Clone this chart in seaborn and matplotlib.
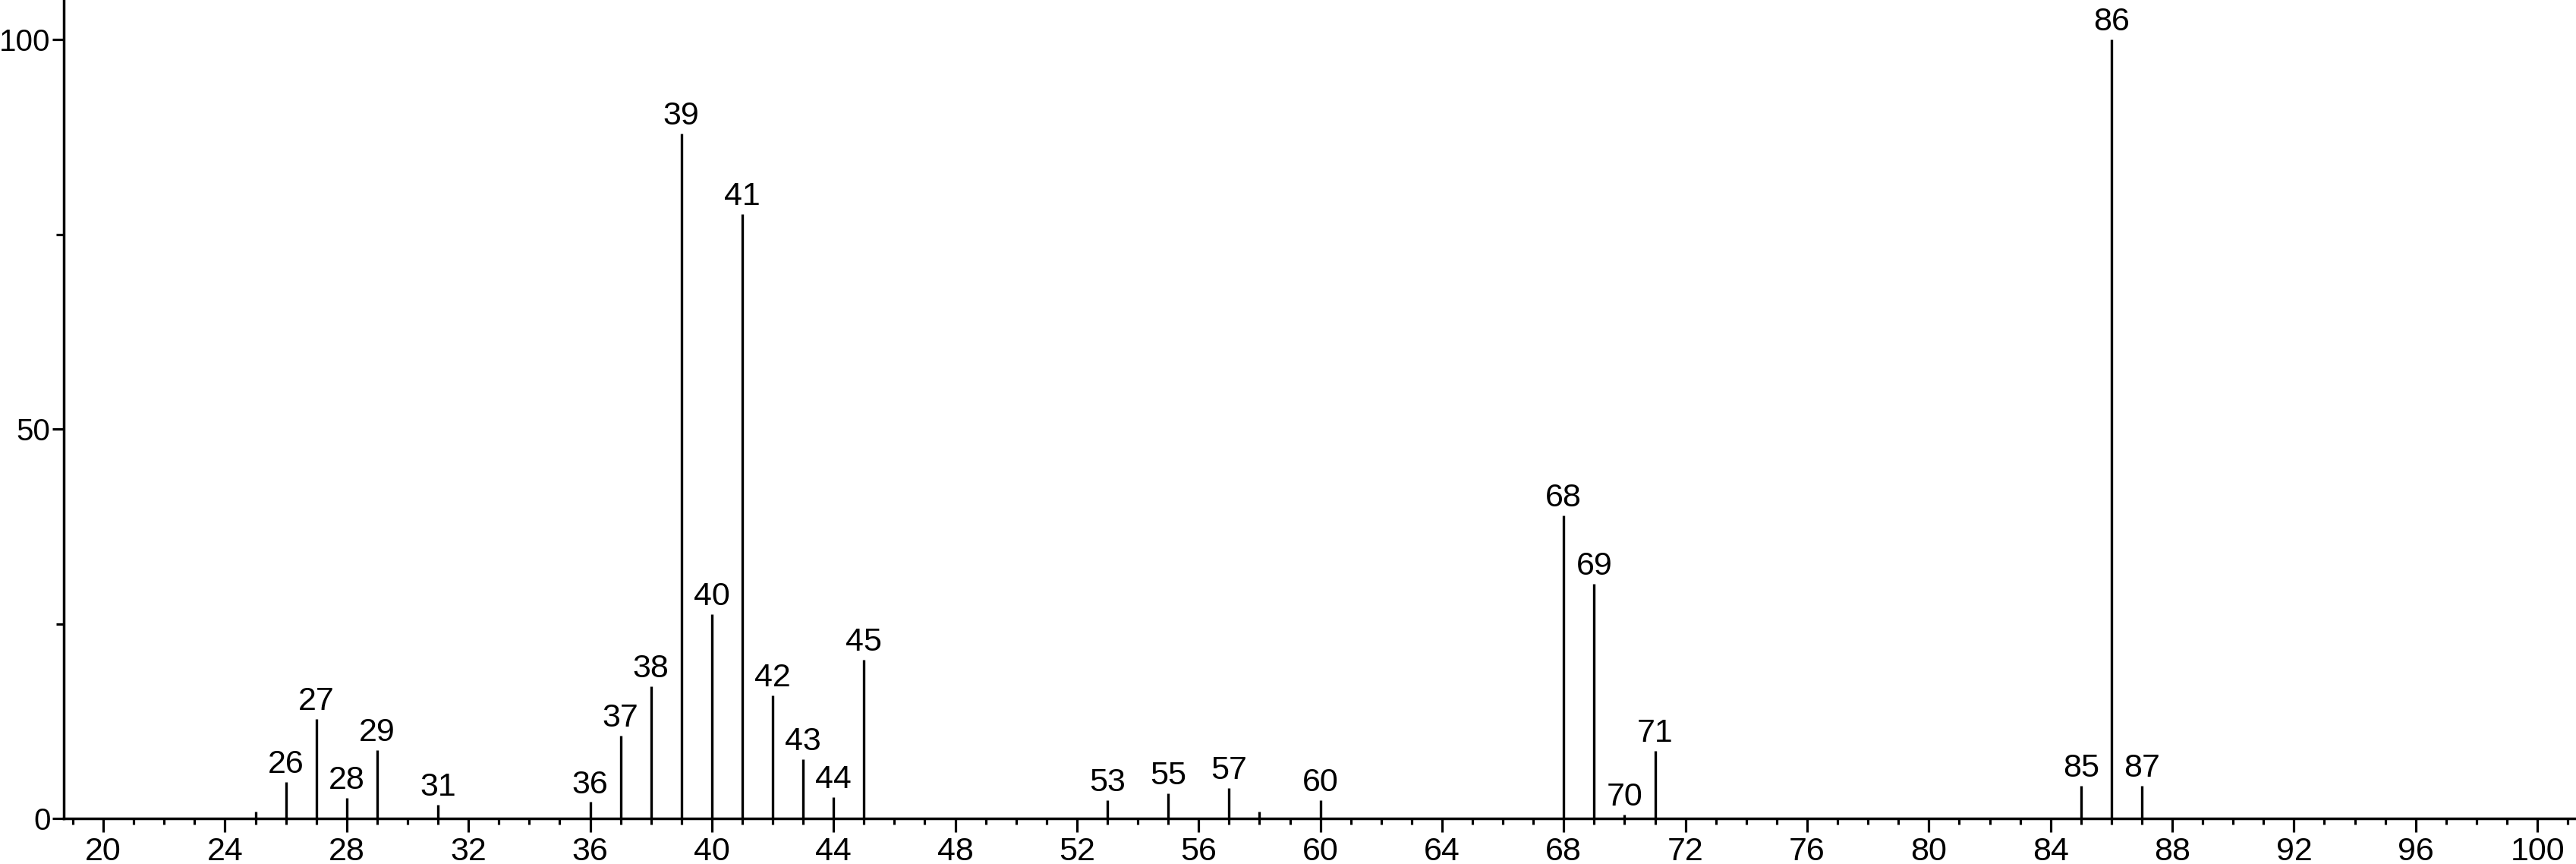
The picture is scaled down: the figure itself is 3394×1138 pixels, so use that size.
import pandas as pd
import matplotlib
matplotlib.use("Agg")
import matplotlib.pyplot as plt
import seaborn as sns
from matplotlib.ticker import MultipleLocator


# DATA (m/z peaks and relative intensity)

mz = [25, 26, 27, 28, 29, 31, 36, 37, 38, 39, 40, 41, 42, 43, 44, 45,
      53, 55, 57, 58, 60, 68, 69, 70, 71, 85, 86, 87]
intensity = [0.9, 4.7, 12.8, 2.6, 8.8, 1.8, 2.1, 10.6, 17.0, 87.9, 26.2, 77.6,
             15.8, 7.6, 2.7, 20.4, 2.3, 3.2, 3.9, 0.9, 2.3, 38.9, 30.1, 0.5,
             8.7, 4.2, 100.0, 4.2]
unlabeled = [25, 58]

x_ticks = list(range(20, 101, 4))
y_ticks = [0, 50, 100]


# STYLE

sns.set_theme(style="ticks")
plt.rcParams["font.family"] = ["Liberation Sans Narrow", "Liberation Sans", "DejaVu Sans"]

df = pd.DataFrame({"mz": mz, "intensity": intensity})

fig = plt.figure(figsize=(33.94, 11.38), dpi=100)
ax = fig.add_axes([84 / 3394, 60 / 1138, (3394 - 84) / 3394, 1078 / 1138])

# peaks
ax.vlines(df["mz"], 0, df["intensity"], color="black", linewidth=2.4)

# peak labels
for _, row in df.iterrows():
    if row["mz"] in unlabeled:
        continue
    ax.annotate(str(int(row["mz"])), xy=(row["mz"], row["intensity"]),
                xytext=(0, 8.6), textcoords="offset points",
                ha="center", va="baseline", fontsize=31, color="black")

ax.set_xlim(18.70, 101.27)
ax.set_ylim(0, 105.07)

ax.set_xticks(x_ticks)
ax.xaxis.set_minor_locator(MultipleLocator(1))
ax.set_yticks(y_ticks)
ax.yaxis.set_minor_locator(MultipleLocator(25))

ax.tick_params(axis="x", which="major", length=13, width=2.3, pad=4,
               labelsize=31, color="black", labelcolor="black", direction="out")
ax.tick_params(axis="x", which="minor", length=6, width=2.3, color="black", direction="out")
ax.tick_params(axis="y", which="major", length=11, width=2.3, pad=1.5,
               labelsize=29, color="black", labelcolor="black", direction="out")
ax.tick_params(axis="y", which="minor", length=7, width=2.3, color="black", direction="out")

sns.despine(ax=ax)
for side in ["left", "bottom"]:
    ax.spines[side].set_linewidth(2.5)
    ax.spines[side].set_color("black")

ax.set_xlabel("")
ax.set_ylabel("")

fig.savefig("out.png", dpi=100, facecolor="white")
plt.close()
